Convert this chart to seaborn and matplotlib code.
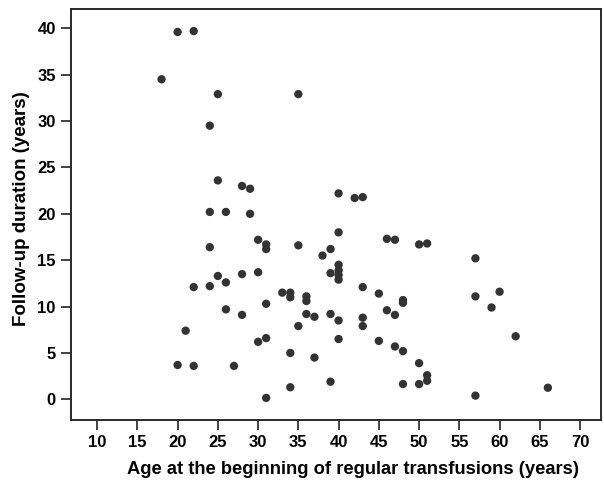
import numpy as np
import pandas as pd
import matplotlib
matplotlib.use("Agg")
import matplotlib.pyplot as plt
import seaborn as sns

# Tuổi bắt đầu truyền máu (năm) và thời gian theo dõi (năm)
age = [20, 22, 18, 25, 35, 24,
       25, 28, 29, 40, 42, 43,
       24, 26, 29, 30, 31, 31, 40, 35, 39, 38,
       46, 47, 50, 51, 57, 24,
       25, 28, 30, 26, 22, 24, 39,
       40, 40, 40, 40,
       33, 34, 34, 36, 36, 43, 45, 48, 48,
       26, 28, 31, 36, 37, 39, 40, 35, 43, 43, 46, 47,
       21, 30, 31, 40, 45, 47, 48, 34, 37, 50, 51, 51,
       20, 22, 27, 39, 48, 50, 34, 31,
       57, 60, 59, 62, 57, 66]
follow_up = [39.6, 39.7, 34.5, 32.9, 32.9, 29.5,
             23.6, 23.0, 22.7, 22.2, 21.7, 21.8,
             20.2, 20.2, 20.0, 17.2, 16.7, 16.2, 18.0, 16.6, 16.2, 15.5,
             17.3, 17.2, 16.7, 16.8, 15.2, 16.4,
             13.3, 13.5, 13.7, 12.6, 12.1, 12.2, 13.6,
             14.5, 13.9, 13.4, 12.9,
             11.5, 11.5, 11.0, 11.1, 10.6, 12.1, 11.4, 10.7, 10.4,
             9.7, 9.1, 10.3, 9.2, 8.9, 9.2, 8.5, 7.9, 8.8, 7.9, 9.6, 9.1,
             7.4, 6.2, 6.6, 6.5, 6.3, 5.7, 5.2, 5.0, 4.5, 3.9, 2.6, 2.0,
             3.7, 3.6, 3.6, 1.9, 1.65, 1.65, 1.3, 0.15,
             11.1, 11.6, 9.9, 6.8, 0.4, 1.25]

df = pd.DataFrame({'age': age, 'follow_up': follow_up})

sns.set_style('ticks')
plt.rcParams['font.family'] = ['Liberation Sans', 'DejaVu Sans']

fig = plt.figure(figsize=(6.04, 4.82), dpi=100)
ax = fig.add_axes([0.1175, 0.1286, 0.8775, 0.8524])
sns.scatterplot(data=df, x='age', y='follow_up', ax=ax, s=36,
                color='#333333', edgecolor='none', linewidth=0)

ax.set_xlim(6.75, 72.6)
ax.set_ylim(-2.23, 42.06)
ax.set_xticks(range(10, 71, 5))
ax.set_yticks(range(0, 41, 5))
ax.tick_params(axis='both', length=7, width=1.2, color='#222222',
               labelsize=12, labelcolor='black', pad=4)
for lab in ax.get_xticklabels() + ax.get_yticklabels():
    lab.set_fontweight('bold')
for sp in ax.spines.values():
    sp.set_visible(True)
    sp.set_linewidth(1.4)
    sp.set_color('#2a2a2a')

ax.set_xlabel('Age at the beginning of regular transfusions (years)',
              fontsize=13.2, fontweight='bold', color='black')
ax.set_ylabel('Follow-up duration (years)', fontsize=13.5,
              fontweight='bold', color='black')
ax.xaxis.set_label_coords(0.532, -0.10)
ax.yaxis.set_label_coords(-0.078, 0.515)

fig.savefig('out.png', dpi=100)
